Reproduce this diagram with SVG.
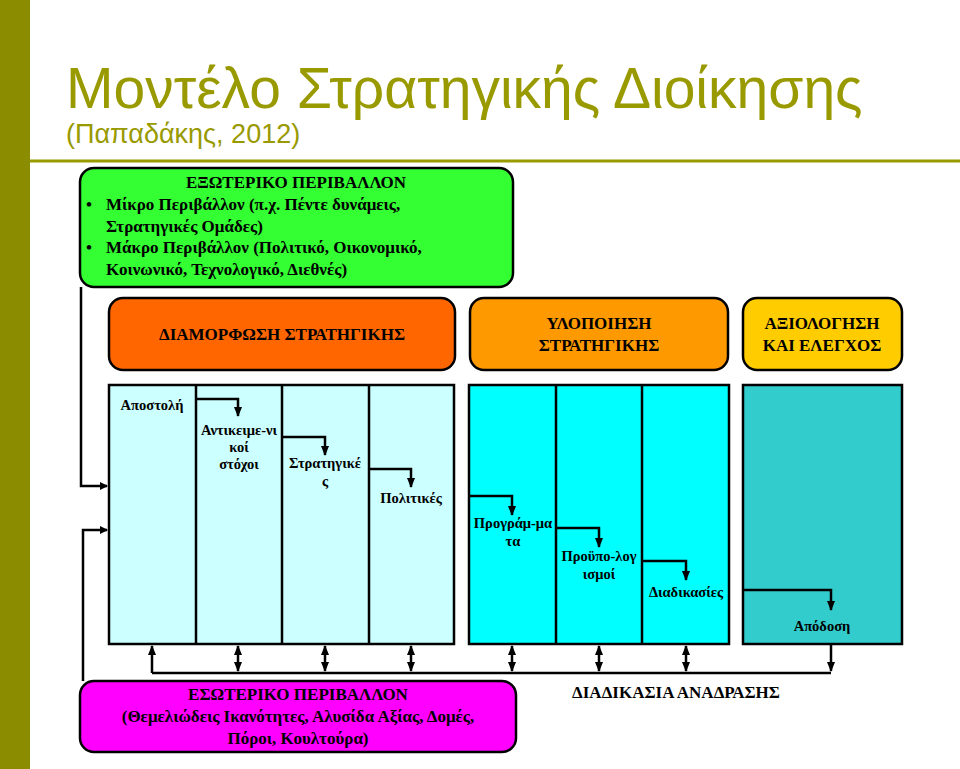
<svg xmlns="http://www.w3.org/2000/svg" width="960" height="769" viewBox="0 0 960 769">
<defs>
<marker id="ah" markerWidth="8" markerHeight="8" refX="7" refY="4" orient="auto" markerUnits="userSpaceOnUse"><path d="M0,0 L8,4 L0,8 Z" fill="#000"/></marker>
<marker id="ah2" markerWidth="10" markerHeight="8" refX="9" refY="4" orient="auto-start-reverse" markerUnits="userSpaceOnUse"><path d="M0,0 L10,4 L0,8 Z" fill="#000"/></marker>
</defs>
<style>
.b{stroke:#000;stroke-width:2.5}
.t{font-family:"Liberation Serif",serif;font-weight:bold;font-size:14.5px;fill:#000;text-anchor:middle}
.h{font-family:"Liberation Serif",serif;font-weight:bold;font-size:17px;fill:#000}
.c{stroke:#000;stroke-width:2.5;fill:none}
</style>
<rect x="0" y="0" width="30" height="769" fill="#8c8c00"/>
<line x1="30" y1="161" x2="960" y2="161" stroke="#999900" stroke-width="3"/>
<text x="66" y="108" font-family="Liberation Sans,sans-serif" font-size="57" fill="#999900">Μοντέλο Στρατηγικής Διοίκησης</text>
<text x="66" y="143" font-family="Liberation Sans,sans-serif" font-size="27" fill="#999900">(Παπαδάκης, 2012)</text>

<g id="external">
<rect class="b" x="80" y="168" width="433" height="119" rx="14" fill="#33ff33"/>
<text class="h" x="296" y="188" text-anchor="middle">ΕΞΩΤΕΡΙΚΟ ΠΕΡΙΒΑΛΛΟΝ</text>
<text class="h" x="86" y="210">•</text><text class="h" x="106" y="210">Μίκρο Περιβάλλον (π.χ. Πέντε δυνάμεις,</text>
<text class="h" x="106" y="232">Στρατηγικές Ομάδες)</text>
<text class="h" x="86" y="253">•</text><text class="h" x="106" y="253">Μάκρο Περιβάλλον (Πολιτικό, Οικονομικό,</text>
<text class="h" x="106" y="275">Κοινωνικό, Τεχνολογικό, Διεθνές)</text>
</g>
<g id="formulation">
<rect class="b" x="109" y="298" width="346" height="72" rx="14" fill="#ff6600"/>
<text class="h" x="282" y="340" text-anchor="middle">ΔΙΑΜΟΡΦΩΣΗ ΣΤΡΑΤΗΓΙΚΗΣ</text>
</g>
<g id="implementation">
<rect class="b" x="470" y="298" width="258" height="72" rx="14" fill="#ff9900"/>
<text class="h" x="599" y="329" text-anchor="middle">ΥΛΟΠΟΙΗΣΗ</text>
<text class="h" x="599" y="351" text-anchor="middle">ΣΤΡΑΤΗΓΙΚΗΣ</text>
</g>
<g id="evaluation">
<rect class="b" x="743" y="298" width="159" height="72" rx="14" fill="#ffcc00"/>
<text class="h" x="822" y="329" text-anchor="middle">ΑΞΙΟΛΟΓΗΣΗ</text>
<text class="h" x="822" y="351" text-anchor="middle">ΚΑΙ ΕΛΕΓΧΟΣ</text>
</g>

<g id="panel1">
<rect class="b" x="109" y="385" width="345" height="259" fill="#ccffff"/>
<line class="b" x1="196" y1="385" x2="196" y2="644"/>
<line class="b" x1="282" y1="385" x2="282" y2="644"/>
<line class="b" x1="369" y1="385" x2="369" y2="644"/>
</g>
<g id="panel2">
<rect class="b" x="469" y="385" width="260" height="259" fill="#00ffff"/>
<line class="b" x1="556" y1="385" x2="556" y2="644"/>
<line class="b" x1="642" y1="385" x2="642" y2="644"/>
</g>
<g id="panel3">
<rect class="b" x="743" y="385" width="159" height="259" fill="#33cccc"/>
</g>

<g id="connectors">
<path class="c" d="M81,287 V486 H107" marker-end="url(#ah)"/>
<path class="c" d="M83,681 V530 H107" marker-end="url(#ah)"/>
<path class="c" d="M196,399 H238 V416" marker-end="url(#ah2)"/>
<path class="c" d="M282,437 H325 V455" marker-end="url(#ah2)"/>
<path class="c" d="M369,469 H411 V487" marker-end="url(#ah2)"/>
<path class="c" d="M469,496 H512 V515" marker-end="url(#ah2)"/>
<path class="c" d="M556,528 H599 V547" marker-end="url(#ah2)"/>
<path class="c" d="M642,561 H686 V580" marker-end="url(#ah2)"/>
<path class="c" d="M743,590 H831 V610" marker-end="url(#ah2)"/>
<path class="c" d="M152,673 V646" marker-end="url(#ah2)"/>
<path class="c" d="M152,673 H831"/>
<path class="c" d="M831,644 V671" marker-end="url(#ah2)"/>
<path class="c" d="M238,646 V671" marker-start="url(#ah2)" marker-end="url(#ah2)"/>
<path class="c" d="M325,646 V671" marker-start="url(#ah2)" marker-end="url(#ah2)"/>
<path class="c" d="M411,646 V671" marker-start="url(#ah2)" marker-end="url(#ah2)"/>
<path class="c" d="M512,646 V671" marker-start="url(#ah2)" marker-end="url(#ah2)"/>
<path class="c" d="M599,646 V671" marker-start="url(#ah2)" marker-end="url(#ah2)"/>
<path class="c" d="M686,646 V671" marker-start="url(#ah2)" marker-end="url(#ah2)"/>
</g>

<g id="labels">
<text class="t" x="152" y="410">Αποστολή</text>
<text class="t" x="239" y="435">Αντικειμε-νι</text>
<text class="t" x="239" y="452">κοί</text>
<text class="t" x="239" y="469">στόχοι</text>
<text class="t" x="325" y="468">Στρατηγικέ</text>
<text class="t" x="325" y="486">ς</text>
<text class="t" x="411" y="503">Πολιτικές</text>
<text class="t" x="513" y="528">Προγράμ-μα</text>
<text class="t" x="513" y="546">τα</text>
<text class="t" x="599" y="561">Προϋπο-λογ</text>
<text class="t" x="599" y="579">ισμοί</text>
<text class="t" x="686" y="597">Διαδικασίες</text>
<text class="t" x="822" y="631">Απόδοση</text>
</g>

<g id="internal">
<rect class="b" x="80" y="681" width="436" height="71" rx="14" fill="#ff00ff"/>
<text class="h" x="298" y="700" text-anchor="middle">ΕΣΩΤΕΡΙΚΟ ΠΕΡΙΒΑΛΛΟΝ</text>
<text class="h" x="298" y="722" text-anchor="middle">(Θεμελιώδεις Ικανότητες, Αλυσίδα Αξίας, Δομές,</text>
<text class="h" x="298" y="744" text-anchor="middle">Πόροι, Κουλτούρα)</text>
</g>
<g id="feedback">
<text class="h" x="676" y="698" text-anchor="middle">ΔΙΑΔΙΚΑΣΙΑ ΑΝΑΔΡΑΣΗΣ</text>
</g>
</svg>
